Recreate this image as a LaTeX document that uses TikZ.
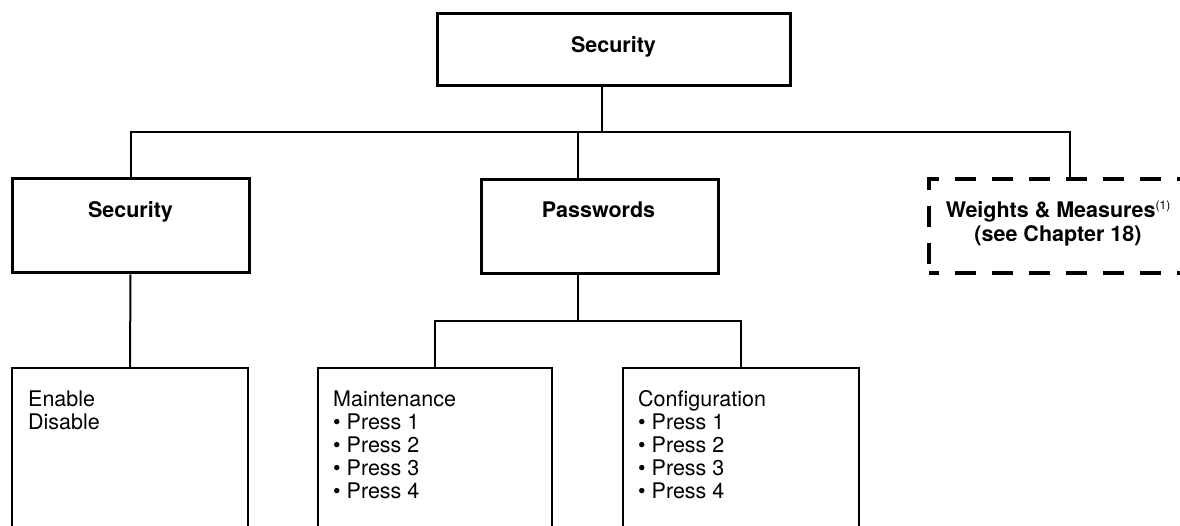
\documentclass[tikz,border=0pt]{standalone}
\usepackage{fontspec}
\setmainfont{TeX Gyre Heros}
\begin{document}
\begin{tikzpicture}[x=1pt,y=-1pt,
  headbox/.style={draw, line width=3pt, inner sep=0pt, rectangle, minimum width=237pt, minimum height=94pt},
  dashbox/.style={draw, line width=3.5pt, inner sep=0pt, rectangle, dash pattern=on 21pt off 16pt, dash phase=11pt, minimum width=267pt, minimum height=94pt},
  leafbox/.style={draw, line width=2pt, inner sep=0pt, rectangle, minimum height=177pt},
  wire/.style={line width=2pt},
  headtext/.style={font=\fontsize{21.5}{24}\selectfont\bfseries, inner sep=0pt, anchor=base},
  bodytext/.style={font=\fontsize{21.5}{23}\selectfont, inner sep=0pt, align=left, anchor=base west}]
\useasboundingbox (0,0) rectangle (1180,526);
% top level
\node[headbox, minimum width=353pt, minimum height=72pt] (top) at (613.5,50) {};
\node[headtext] (toptext) at (613.5,53) {Security};
% second level
\node[headbox] (sec) at (130.5,226) {};
\node[headtext] (sectext) at (130.5,218) {Security};
\node[headbox] (pw) at (599.5,226.5) {};
\node[headtext] (pwtext) at (598.5,218) {Passwords};
\node[dashbox] (wm) at (1062.5,226) {};
\node[headtext] (wmtext1) at (1058,218) {Weights \& Measures{\mdseries\fontsize{12}{12}\selectfont\raisebox{8pt}{(1)}}};
\node[headtext] (wmtext2) at (1058,242) {(see Chapter 18)};
% leaves
\node[leafbox, minimum width=236pt] (en) at (130,456.5) {};
\node[leafbox, minimum width=234pt] (mt) at (435,456.5) {};
\node[leafbox, minimum width=236pt] (cf) at (741,456.5) {};
\node[bodytext] (entext) at (28,429) {Enable\\Disable};
\node[bodytext] (mttext) at (333,498) {Maintenance\\• Press 1\\• Press 2\\• Press 3\\• Press 4};
\node[bodytext] (cftext) at (638,498) {Configuration\\• Press 1\\• Press 2\\• Press 3\\• Press 4};
% connectors
\coordinate (j0) at (602,132);
\coordinate (jr) at (1070,132);
\coordinate (jm) at (577.5,132);
\coordinate (k0) at (578,321);
\draw[wire] (j0 |- top.south) -- (j0);
\draw[wire] (sec.north) -- (sec.north |- j0) -- (jr) -- (jr |- wm.north);
\draw[wire] (jm) -- (jm |- pw.north);
\draw[wire] (sec.south) -- (en.north);
\draw[wire] (k0 |- pw.south) -- (k0);
\draw[wire] (mt.north) -- (mt.north |- k0) -- (cf.north |- k0) -- (cf.north);
\end{tikzpicture}
\end{document}
